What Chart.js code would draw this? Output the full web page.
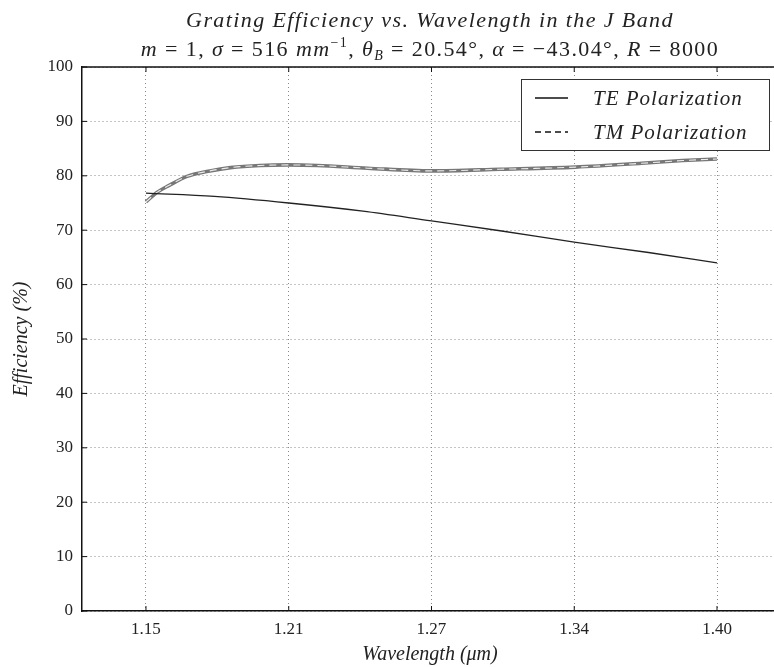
<!DOCTYPE html>
<html><head><meta charset="utf-8">
<script src="https://cdn.jsdelivr.net/npm/chart.js@4"></script>
<style>html,body{margin:0;padding:0;background:#fff;overflow:hidden;width:774px;height:667px}#wrap{width:790px;height:667px}</style>
</head><body><div id="wrap"><canvas id="c" width="790" height="667"></canvas></div>
<script>
// ---- data ----
const xTickValues = [1.15, 1.2125, 1.275, 1.3375, 1.40];
const xTickLabels = ['1.15', '1.21', '1.27', '1.34', '1.40'];
const teWavelength = [1.15, 1.18, 1.2125, 1.245, 1.275, 1.305, 1.3375, 1.37, 1.40];
const teEfficiency = [76.8, 76.2, 75.0, 73.5, 71.7, 69.9, 67.8, 65.9, 64.0];
const tmWavelength = [1.150, 1.155, 1.160, 1.168, 1.178, 1.187, 1.200, 1.212, 1.225, 1.247, 1.275, 1.305, 1.338, 1.367, 1.385, 1.400];
const tmEfficiency = [75.2, 77.0, 78.2, 79.9, 80.9, 81.5, 81.9, 82.0, 81.9, 81.4, 80.9, 81.2, 81.6, 82.3, 82.8, 83.1];
const seriesNames = ['TE Polarization', 'TM Polarization'];
const titleLine1 = 'Grating Efficiency vs. Wavelength in the J Band';
const titleLine2 = [['m','i'],[' = 1, ','r'],['σ','i'],[' = 516 ','r'],['mm','i'],['−1','sup'],[', ','r'],['θ','i'],['B','sub'],[' = 20.54','r'],['°','r'],[', ','r'],['α','i'],[' = −43.04','r'],['°','r'],[', ','r'],['R','i'],[' = 8000','r']];
const xAxisTitle = 'Wavelength (μm)';
const yAxisTitle = 'Efficiency (%)';

const SERIF = '"Liberation Serif", "DejaVu Serif", serif';
const pts = (xs, ys) => xs.map((x, i) => ({x: x, y: ys[i]}));

const decor = {
  id: 'decor',
  afterDraw(chart) {
    const ctx = chart.ctx, a = chart.chartArea;
    const xs = chart.scales.x, ys = chart.scales.y;
    ctx.save();
    // frame top line
    ctx.strokeStyle = '#111'; ctx.lineWidth = 1.5;
    ctx.beginPath(); ctx.moveTo(a.left, a.top); ctx.lineTo(a.right, a.top); ctx.stroke();
    // inward ticks
    ctx.lineWidth = 1;
    xTickValues.forEach(v => {
      const px = xs.getPixelForValue(v);
      ctx.beginPath(); ctx.moveTo(px, a.bottom); ctx.lineTo(px, a.bottom - 5);
      ctx.moveTo(px, a.top); ctx.lineTo(px, a.top + 5); ctx.stroke();
    });
    for (let v = 0; v <= 100; v += 10) {
      const py = ys.getPixelForValue(v);
      ctx.beginPath(); ctx.moveTo(a.left, py); ctx.lineTo(a.left + 5, py); ctx.stroke();
    }
    // title line 1
    const cx = (a.left + a.right) / 2;
    ctx.fillStyle = '#222';
    ctx.textBaseline = 'alphabetic';
    ctx.letterSpacing = '1.4px';
    const fontFor = s => s === 'i' ? 'italic 22px ' + SERIF : (s === 'r' ? '22px ' + SERIF : (s === 'sub' ? 'italic 14px ' + SERIF : '14px ' + SERIF));
    ctx.font = fontFor('i');
    ctx.textAlign = 'left';
    const w1 = ctx.measureText(titleLine1).width;
    ctx.fillText(titleLine1, cx - w1 / 2, 27);
    // title line 2 (segments)
    let total = 0;
    titleLine2.forEach(([t, s]) => { ctx.font = fontFor(s); total += ctx.measureText(t).width; });
    let x = cx - total / 2;
    titleLine2.forEach(([t, s]) => {
      ctx.font = fontFor(s);
      const dy = s === 'sup' ? -9 : (s === 'sub' ? 4 : 0);
      ctx.fillText(t, x, 56 + dy);
      x += ctx.measureText(t).width;
    });
    // legend
    const lx = 521, ly = 79, lw = 248, lh = 71;
    ctx.fillStyle = '#fff'; ctx.fillRect(lx, ly, lw, lh);
    ctx.strokeStyle = '#333'; ctx.lineWidth = 1; ctx.strokeRect(lx + 0.5, ly + 0.5, lw, lh);
    const rows = [98, 132];
    ctx.letterSpacing = '1px';
    seriesNames.forEach((name, i) => {
      const d = chart.data.datasets.find(ds => ds.label === name);
      ctx.strokeStyle = '#111'; ctx.lineWidth = 1.3;
      ctx.setLineDash(d.legendDash || []);
      ctx.beginPath(); ctx.moveTo(535, rows[i]); ctx.lineTo(568, rows[i]); ctx.stroke();
      ctx.setLineDash([]);
      ctx.fillStyle = '#222'; ctx.font = 'italic 21px ' + SERIF; ctx.textBaseline = 'middle';
      ctx.fillText(d.label, 593, rows[i] + 1);
    });
    ctx.restore();
  }
};

new Chart(document.getElementById('c'), {
  type: 'line',
  data: {
    datasets: [
      {label: seriesNames[1], legendDash: [6, 4], data: pts(tmWavelength, tmEfficiency), borderColor: '#777', borderWidth: 3.6, pointRadius: 0, cubicInterpolationMode: 'monotone', order: 3},
      {label: '', data: pts(tmWavelength, tmEfficiency), borderColor: 'rgba(255,255,255,0.85)', borderWidth: 1.1, borderDash: [7, 5], pointRadius: 0, cubicInterpolationMode: 'monotone', order: 2},
      {label: seriesNames[0], data: pts(teWavelength, teEfficiency), borderColor: '#222', borderWidth: 1.3, pointRadius: 0, cubicInterpolationMode: 'monotone', order: 1}
    ]
  },
  options: {
    responsive: false, animation: false, devicePixelRatio: 1,
    layout: {padding: {left: 0, right: 12, top: 67, bottom: 0}},
    plugins: {legend: {display: false}, title: {display: false}, tooltip: {enabled: false}},
    scales: {
      x: {
        type: 'linear', min: 1.122, max: 1.4267,
        afterBuildTicks: s => { s.ticks = xTickValues.map(v => ({value: v})); },
        afterFit: s => { s.height = 56; },
        ticks: {callback: (v, i) => xTickLabels[i], font: {family: SERIF, size: 17}, color: '#222', padding: 8, maxRotation: 0, autoSkip: false},
        grid: {color: '#8a8a8a', lineWidth: 1, drawTicks: false},
        border: {display: true, color: '#111', width: 1.5, dash: [1, 3]},
        title: {display: true, text: xAxisTitle, font: {family: SERIF, size: 20, style: 'italic'}, color: '#222', padding: {top: 0, bottom: 0}}
      },
      y: {
        min: 0, max: 100,
        afterFit: s => { s.width = 82; },
        ticks: {stepSize: 10, font: {family: SERIF, size: 17}, color: '#222', padding: 9},
        grid: {color: '#8a8a8a', lineWidth: 1, drawTicks: false},
        border: {display: true, color: '#111', width: 1.5, dash: [1, 3]},
        title: {display: true, text: yAxisTitle, font: {family: SERIF, size: 20, style: 'italic'}, color: '#222', padding: {top: 10, bottom: 0}}
      }
    }
  },
  plugins: [decor]
});
</script></body></html>
